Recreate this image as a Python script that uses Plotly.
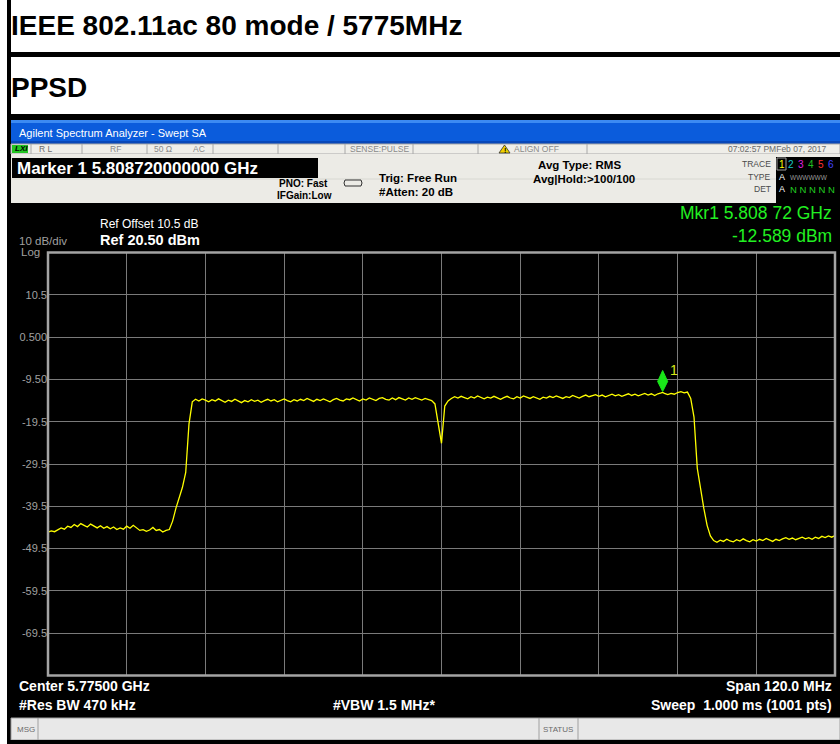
import plotly.graph_objects as go

# ---------------------------------------------------------------------------
# Sweep data (dBm), 0.5 MHz spacing inside each segment, start frequency in MHz
# ---------------------------------------------------------------------------
STEP_MHZ = 0.5

floor_left_start = 5715.0
floor_left_dbm = [
    -45.6, -45.3, -45.5, -45.0, -44.6, -44.9, -44.2, -44.5, -43.8, -44.3,
    -43.6, -44.0, -44.4, -43.7, -44.2, -44.6, -44.1, -44.7, -44.3, -44.8,
    -44.4, -45.0, -44.6, -44.9, -44.2, -44.7, -44.0, -44.6, -45.2, -45.0,
    -45.4, -45.1, -44.5, -45.2, -45.0, -45.6, -45.2,
]

rise_left_start = 5733.5
rise_left_dbm = [-45.0, -43.0, -40.0, -37.5, -35.0, -31.5, -20.0, -14.8, -14.2]

band_left_start = 5738.0
band_left_dbm = [
    -14.6, -14.1, -14.4, -14.8, -14.3, -14.6, -14.1, -14.5, -14.9, -14.4,
    -14.7, -14.2, -14.6, -15.0, -14.5, -14.8, -14.3, -14.7, -14.4, -14.9,
    -14.5, -14.2, -14.6, -14.3, -14.8, -14.4, -14.1, -14.5, -14.8, -14.3,
    -14.6, -14.2, -14.5, -14.0, -14.4, -14.7, -14.2, -14.5, -14.1, -14.4,
    -14.8, -14.3, -14.0, -14.4, -14.6, -14.1, -14.3, -13.9, -14.3, -14.6,
    -14.1, -14.4, -13.9, -14.2, -14.5, -14.0, -13.8, -14.2, -14.4, -13.9,
    -14.3, -13.8, -14.1, -14.4, -13.9, -14.2, -13.8, -14.1, -14.4, -14.0,
]

notch_start = 5773.0
notch_dbm = [-14.2, -14.5, -15.3, -19.5, -24.6, -15.8, -14.6, -14.0, -13.6]

band_right_start = 5777.5
band_right_dbm = [
    -13.9, -13.5, -13.8, -14.1, -13.6, -13.9, -13.4, -13.8, -14.1, -13.7,
    -13.9, -13.5, -13.8, -14.2, -13.8, -13.5, -13.9, -14.1, -13.6, -13.9,
    -13.4, -13.7, -14.0, -13.6, -13.9, -14.2, -13.7, -13.9, -13.5, -13.8,
    -13.4, -13.7, -14.0, -13.6, -13.8, -13.3, -13.6, -13.9, -13.5, -13.2,
    -13.6, -13.4, -13.1, -13.5, -13.2, -13.6, -13.3, -13.0, -13.4, -13.1,
    -13.5, -13.2, -12.9, -13.3, -13.0, -13.4, -13.1, -12.8, -13.2, -12.9,
    -13.3, -12.9, -12.7, -12.8, -13.1, -12.8, -13.0, -12.6, -12.4,
]

fall_right_start = 5812.0
fall_right_dbm = [-12.7, -12.5, -14.0, -18.4, -30.5, -35.5, -40.0, -44.0, -46.5, -47.6]

floor_right_start = 5817.0
floor_right_dbm = [
    -48.0, -47.5, -47.8, -47.3, -47.7, -47.9, -47.4, -47.7, -47.2, -47.6,
    -47.9, -47.4, -47.7, -47.3, -47.6, -47.1, -47.5, -47.8, -47.3, -47.6,
    -47.2, -46.9, -47.3, -47.0, -47.4, -47.1, -46.8, -47.2, -46.9, -47.3,
    -46.8, -47.1, -46.6, -46.9, -46.5, -46.8, -46.4,
]

# Marker 1
marker_freq_ghz = 5.80872
marker_level_dbm = -12.589

# Display settings
center_ghz = 5.775
span_ghz = 0.120
ref_level = 20.5
db_per_div = 10
y_tick_text = ["", "10.5", "0.500", "-9.50", "-19.5", "-29.5",
               "-39.5", "-49.5", "-59.5", "-69.5", ""]

# ---------------------------------------------------------------------------
segments = [
    (floor_left_start, floor_left_dbm),
    (rise_left_start, rise_left_dbm),
    (band_left_start, band_left_dbm),
    (notch_start, notch_dbm),
    (band_right_start, band_right_dbm),
    (fall_right_start, fall_right_dbm),
    (floor_right_start, floor_right_dbm),
]
points = []
for start, vals in segments:
    for k, v in enumerate(vals):
        points.append(((start + STEP_MHZ * k) / 1000.0, v))
points.append((marker_freq_ghz, marker_level_dbm))
points.sort()
trace_x = [p[0] for p in points]
trace_y = [p[1] for p in points]

W, H = 840, 744
FONT = "Liberation Sans, Arial, sans-serif"


def X(px):
    return px / W


def Y(py):
    return 1 - py / H


fig = go.Figure()
fig.add_trace(go.Scatter(x=trace_x, y=trace_y, mode="lines",
                         line=dict(color="#ffff00", width=1.3),
                         hoverinfo="skip"))

shapes = []


def rect(x0, y0, x1, y1, fill, line_color=None, lw=0, layer="below"):
    shapes.append(dict(type="rect", xref="paper", yref="paper",
                       x0=X(x0), x1=X(x1), y0=Y(y1), y1=Y(y0),
                       fillcolor=fill, layer=layer,
                       line=dict(color=line_color or fill, width=lw)))


def hline(x0, x1, y, color, lw=1, layer="below"):
    shapes.append(dict(type="line", xref="paper", yref="paper",
                       x0=X(x0), x1=X(x1), y0=Y(y), y1=Y(y), layer=layer,
                       line=dict(color=color, width=lw)))


def vline(x, y0, y1, color, lw=1, layer="below"):
    shapes.append(dict(type="line", xref="paper", yref="paper",
                       x0=X(x), x1=X(x), y0=Y(y0), y1=Y(y1), layer=layer,
                       line=dict(color=color, width=lw)))


annotations = []


def text(s, x, y, size, color="#000000", anchor="left", bold=False,
         family=FONT, vanchor="middle"):
    if bold:
        s = "<b>" + s + "</b>"
    annotations.append(dict(text=s, x=X(x), y=Y(y), xref="paper", yref="paper",
                            xanchor=anchor, yanchor=vanchor, showarrow=False,
                            font=dict(size=size, color=color, family=family)))


# Header table
rect(7, 52, 840, 57, "#000000")
rect(7, 114, 840, 120, "#000000")
rect(7, 0, 11, 744, "#000000")
text("IEEE 802.11ac 80 mode / 5775MHz", 9, 26, 28, bold=True)
text("PPSD", 9, 87, 28, bold=True)

# Window title bar
rect(11, 120, 840, 144, "#0b5cdc")
rect(11, 120, 840, 123, "#3c8af2")
rect(11, 141, 840, 144, "#0847b8")
text("Agilent Spectrum Analyzer - Swept SA", 17, 133, 11, "#ffffff")

# Status strip
rect(11, 144, 840, 154, "#efeee9", "#a8a8a8", 1)
for sx in [31, 82, 147, 213, 278, 345, 413, 478, 587]:
    vline(sx, 144, 154, "#a8a8a8")
rect(12, 145, 28, 153, "#22c422")
text("<i>LXI</i>", 13, 149, 8, "#000000", bold=True)
text("R L", 37, 149, 8.5, "#6a6a6a")
text("RF", 108, 149, 8.5, "#8a8a8a")
text("50 Ω", 152, 149, 8.5, "#8a8a8a")
text("AC", 191, 149, 8.5, "#8a8a8a")
text("SENSE:PULSE", 348, 149, 8.5, "#8a8a8a")
shapes.append(dict(type="path", xref="paper", yref="paper", layer="above",
                   path=f"M{X(499)},{Y(153)} L{X(510)},{Y(153)} L{X(504.5)},{Y(145)} Z",
                   fillcolor="#f2d200", line=dict(color="#303030", width=0.8)))
text("!", 504.5, 150, 7, "#000000", anchor="center", bold=True)
text("ALIGN OFF", 512, 149, 8.5, "#8a8a8a")
text("07:02:57 PMFeb 07, 2017", 829, 149, 8.5, "#6a6a6a", anchor="right")

# Control panel
rect(11, 154, 840, 203, "#ecebe6")
hline(11, 776, 179, "#d8d8d2")
rect(12, 158, 318, 178, "#000000")
text("Marker 1 5.808720000000 GHz", 15, 168, 17, "#ffffff", bold=True)
text("PNO: Fast", 330, 183, 10, "#000000", anchor="right", bold=True)
text("IFGain:Low", 334, 195, 10, "#000000", anchor="right", bold=True)
shapes.append(dict(type="path", xref="paper", yref="paper", layer="above",
                   path=(f"M{X(345)},{Y(180)} L{X(361)},{Y(180)} L{X(362)},{Y(183)} "
                         f"L{X(361)},{Y(186)} L{X(345)},{Y(186)} L{X(344)},{Y(183)} Z"),
                   fillcolor="rgba(0,0,0,0)", line=dict(color="#303030", width=1)))
text("Trig: Free Run", 377, 178, 11.5, "#000000", bold=True)
text("#Atten: 20 dB", 377, 192, 11.5, "#000000", bold=True)
text("Avg Type: RMS", 579, 165, 11.5, "#000000", anchor="center", bold=True)
text("Avg|Hold:>100/100", 584, 179, 11.5, "#000000", anchor="center", bold=True)

# Trace status box
rect(776, 157, 840, 203, "#000000")
text("TRACE", 773, 164, 8.5, "#4a4a4a", anchor="right")
text("TYPE", 773, 177, 8.5, "#4a4a4a", anchor="right")
text("DET", 773, 189, 8.5, "#4a4a4a", anchor="right")
shapes.append(dict(type="rect", xref="paper", yref="paper", layer="above",
                   x0=X(777), x1=X(786), y0=Y(170), y1=Y(158),
                   line=dict(color="#9a9a9a", width=1)))
for tx, ch, col in [(781.5, "1", "#ffff00"), (791, "2", "#18c8c8"),
                    (801, "3", "#e020e0"), (811, "4", "#20c020"),
                    (821, "5", "#ff3030"), (831, "6", "#4444ff")]:
    text(ch, tx, 164, 10, col, anchor="center")
text("A", 781.5, 177, 9, "#ffffff", anchor="center")
text("WWWWWW", 788, 177, 6.5, "#9a9a9a")
text("A", 781.5, 189, 9, "#ffffff", anchor="center")
text("N N N N N", 788, 189, 9.5, "#20d020")

# Graph panel
rect(11, 203, 840, 718, "#000000")
text("Ref Offset 10.5 dB", 98, 224, 12, "#ffffff")
text("Ref 20.50 dBm", 98, 240, 14.5, "#ffffff", bold=True)
text("10 dB/div", 17, 241, 11.5, "#a0a0a0")
text("Log", 19, 252, 11.5, "#a0a0a0")
text("Mkr1 5.808 72 GHz", 834, 225, 17.5, "#22f022", anchor="right",
     vanchor="bottom")
text("-12.589 dBm", 834, 224, 17.5, "#22f022", anchor="right",
     vanchor="top")
text("Center 5.77500 GHz", 17, 686, 14, "#ffffff", bold=True)
text("#Res BW 470 kHz", 17, 705, 14, "#ffffff", bold=True)
text("#VBW 1.5 MHz*", 331, 705, 14, "#ffffff", bold=True)
text("Span 120.0 MHz", 834, 686, 14, "#ffffff", anchor="right", bold=True)
text("Sweep\u00a0\u00a01.000 ms (1001 pts)", 834, 705, 14, "#ffffff",
     anchor="right", bold=True)

# Message bar
rect(11, 718, 840, 740, "#e8e8e8", "#a0a0a0", 1)
vline(38, 718, 740, "#a0a0a0")
vline(539, 718, 740, "#a0a0a0")
vline(578, 718, 740, "#a0a0a0")
text("MSG", 15, 729, 8, "#6a6a6a")
text("STATUS", 541, 729, 8, "#6a6a6a")
rect(11, 740, 840, 744, "#000000")

# Plot frame and marker 1
shapes.append(dict(type="rect", xref="x domain", yref="y domain",
                   x0=0, x1=1, y0=0, y1=1, layer="above",
                   line=dict(color="#a4a4a4", width=2.5)))
shapes.append(dict(type="path", xref="x", yref="y",
                   xsizemode="pixel", ysizemode="pixel",
                   xanchor=marker_freq_ghz, yanchor=marker_level_dbm,
                   path="M0,1 L5,11 L0,22 L-5,11 Z", layer="above",
                   fillcolor="#19e619", line=dict(color="#19e619", width=1)))
annotations.append(dict(text="1", x=marker_freq_ghz, y=marker_level_dbm,
                        xref="x", yref="y", xshift=11, yshift=22,
                        showarrow=False,
                        font=dict(size=14, color="#d8e818", family=FONT)))

x_grid = [center_ghz - span_ghz / 2 + span_ghz / 10 * k for k in range(11)]
y_grid = [ref_level - db_per_div * k for k in range(11)]

fig.update_layout(
    width=W, height=H,
    margin=dict(l=0, r=0, t=0, b=0),
    paper_bgcolor="#ffffff",
    plot_bgcolor="#000000",
    showlegend=False,
    shapes=shapes,
    annotations=annotations,
    xaxis=dict(domain=[X(48), X(835)],
               range=[center_ghz - span_ghz / 2, center_ghz + span_ghz / 2],
               tickvals=x_grid, showticklabels=False, ticks="",
               showgrid=True, gridcolor="#7a7a7a", gridwidth=1,
               zeroline=False, showline=False, fixedrange=True),
    yaxis=dict(domain=[Y(675.5), Y(252.5)],
               range=[ref_level - 10 * db_per_div, ref_level],
               tickvals=y_grid, ticktext=y_tick_text, ticks="",
               tickfont=dict(size=11, color="#a0a0a0", family=FONT),
               showgrid=True, gridcolor="#7a7a7a", gridwidth=1,
               zeroline=False, showline=False, fixedrange=True),
)

fig.write_html("out.html")
